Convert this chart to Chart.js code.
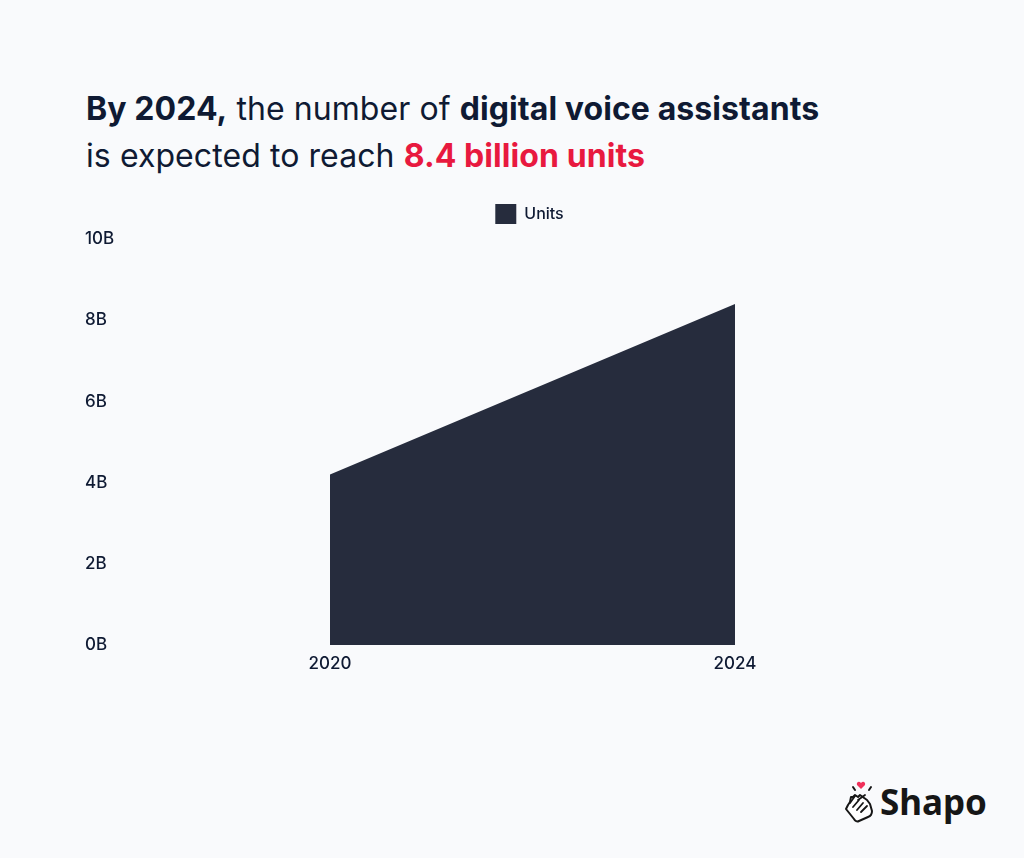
<!DOCTYPE html>
<html><head><meta charset="utf-8">
<script src="https://cdn.jsdelivr.net/npm/chart.js@4"></script>
<style>
html,body{margin:0;padding:0;background:#f9fafc;width:1024px;height:858px;overflow:hidden;font-family:Inter,sans-serif;color:#0f1a33}
#t{position:absolute;left:86px;top:85px;font-size:32px;line-height:47px;letter-spacing:0.08px;white-space:nowrap}
#t b{font-weight:700}#t .r{color:#e8193f;font-weight:700}
#c{position:absolute;left:0;top:190px}
#logo{position:absolute;left:880px;top:778px;font-family:"Noto Sans";font-size:35px;font-weight:700;color:#161616;line-height:48px}
#hand{position:absolute;left:843px;top:780px}
</style></head><body>
<div id="t"><b>By 2024,</b> the number of <b>digital voice assistants</b><br>is expected to reach <span class="r">8.4 billion units</span></div>
<canvas id="c" width="1024" height="500"></canvas>
<svg id="hand" width="32" height="44" viewBox="0 0 32 44"><path d="M18 3c-2-2.500-5-.5-4 2l4 4 4-4c1-2.500-2-4.500-4-2z" fill="#f0305a"/><path d="M10 7l2 3M28 7l-2 3" stroke="#161616" stroke-width="2" stroke-linecap="round"/><path d="M3 29l8 10c1 2 3 3 5 2l9-4c3-1 4-3 4-6l-2-7-3-4-7-5-2 2-3-2-2 2-2 0-1 5-2 3z" fill="#fff" stroke="#161616" stroke-width="2" stroke-linejoin="round"/><path d="M16 20l-6 7M20 23l-6 7M24 26l-6 6M12 16l-5 7M22 15l-7 5" fill="none" stroke="#161616" stroke-width="1.800" stroke-linecap="round"/></svg>
<div id="logo">Shapo</div>
<script>
const categories=['2020','2024'];
const units=[4.2,8.4];
const tickLabels=['0B','2B','4B','6B','8B','10B'];
const ink='#0f1a33';
const shiftLegend={id:'shiftLegend',afterLayout(chart){const l=chart.legend;l.left+=119.5;l.right+=119.5;l.top-=5;l.bottom-=5;}};
new Chart(document.getElementById('c'),{type:'line',
plugins:[shiftLegend],
data:{labels:categories,datasets:[{label:'Units',data:units,fill:true,tension:0,borderWidth:0,pointRadius:0,backgroundColor:'#262c3d',borderColor:'#262c3d'}]},
options:{responsive:false,animation:false,
layout:{padding:{left:85,right:289,top:0,bottom:0}},
plugins:{legend:{display:true,position:'top',labels:{boxWidth:21,boxHeight:20,color:ink,font:{family:'Inter',size:16,weight:'500'},padding:19}},tooltip:{enabled:false}},
scales:{
x:{grid:{display:false},border:{display:false},offset:false,afterFit(s){s.height=45;},ticks:{color:ink,padding:1,font:{family:'Inter',size:17,weight:'500'},autoSkip:false,maxRotation:0}},
y:{min:0,max:10,grid:{display:false},border:{display:false},afterFit(s){s.width=245;},ticks:{stepSize:2,color:ink,font:{family:'Inter',size:17,weight:'500'},crossAlign:'far',padding:0,callback:(v)=>tickLabels[v/2]}}}}
});
</script></body></html>
